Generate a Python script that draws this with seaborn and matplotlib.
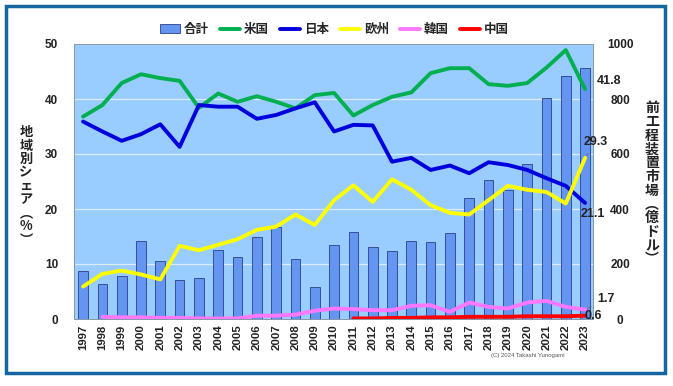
import matplotlib
matplotlib.use("Agg")
import matplotlib.pyplot as plt
import matplotlib.patches as mpatches
import pandas as pd
import seaborn as sns

years = list(range(1997, 2024))
total = [173, 126, 156, 285, 211, 143, 148, 251, 227, 299, 335, 219, 115, 268,
         315, 263, 247, 284, 280, 314, 441, 505, 469, 563, 803, 885, 912]
usa = [36.8, 38.9, 42.9, 44.5, 43.8, 43.3, 38.4, 41.0, 39.5, 40.5, 39.5, 38.3, 40.7, 41.1,
       37.0, 38.9, 40.4, 41.2, 44.7, 45.6, 45.6, 42.7, 42.4, 42.9, 45.7, 48.9, 41.8]
japan = [35.9, 34.1, 32.4, 33.6, 35.4, 31.3, 38.9, 38.6, 38.6, 36.4, 37.1, 38.3, 39.4, 34.1,
         35.3, 35.2, 28.6, 29.3, 27.1, 27.9, 26.5, 28.5, 28.0, 27.1, 25.6, 24.2, 21.1]
europe = [5.9, 8.2, 8.8, 8.1, 7.2, 13.3, 12.5, 13.5, 14.5, 16.2, 16.8, 19.0, 17.1, 21.6,
          24.3, 21.3, 25.4, 23.5, 20.7, 19.3, 19.0, 21.6, 24.2, 23.5, 23.1, 21.0, 29.3]
korea = [None, 0.4, 0.3, 0.3, 0.2, 0.2, 0.1, 0.1, 0.1, 0.6, 0.6, 0.8, 1.5, 1.9,
         1.8, 1.6, 1.6, 2.4, 2.5, 1.3, 3.0, 2.2, 1.9, 3.0, 3.3, 2.2, 1.7]
china = [None] * 14 + [0.1, 0.1, 0.2, 0.2, 0.3, 0.3, 0.4, 0.4, 0.4, 0.5, 0.5, 0.5, 0.6]

df = pd.DataFrame({"year": years, "total": total, "米国": usa, "日本": japan,
                   "欧州": europe, "韓国": korea, "中国": china})

sns.set_style("white")
plt.rcParams["font.family"] = ["Liberation Sans", "Noto Sans CJK JP"]
plt.rcParams["font.weight"] = "bold"

fig = plt.figure(figsize=(6.73, 3.86), dpi=100)
ax = fig.add_axes([74/673, 1-319/386, (593-74)/673, (319-44)/386])
ax.set_facecolor("#99CCFF")

# bars (right scale) drawn first, lines on twin axis on top
sns.barplot(data=df, x="year", y="total", native_scale=True, orient="x", width=0.5,
            color="#6495F0", saturation=1, edgecolor="#2B3F8C", linewidth=0.6,
            label="合計", ax=ax)
if ax.get_legend() is not None:
    ax.get_legend().remove()
ax.set_ylim(0, 1000)
ax.set_yticks([0, 200, 400, 600, 800, 1000])
ax.grid(axis="y", color="#DCEBFF", lw=0.9)
ax.set_axisbelow(True)

ax2 = ax.twinx()
colors = {"米国": "#00B050", "日本": "#0000DD", "欧州": "#FFFF00",
          "韓国": "#FF77FF", "中国": "#FF0000"}
for name, c in colors.items():
    sns.lineplot(data=df, x="year", y=name, color=c, lw=2.8, label=name, ax=ax2,
                 legend=False)
ax2.set_ylim(0, 50)
ax2.set_yticks([0, 10, 20, 30, 40, 50])
ax2.yaxis.tick_left()
ax.yaxis.tick_right()
ax2.set_xlim(1997 - 0.47, 2023 + 0.41)

ax.set_xlabel("")
ax.set_ylabel("")
ax2.set_xlabel("")
ax2.set_ylabel("")
ax.set_xticks(years)
ax.set_xticklabels([str(y) for y in years], rotation=90, fontsize=8.2,
                   fontweight="bold", color="#222222")
ax.tick_params(axis="x", length=3, width=0.6, color="#777777", pad=1)
ax.tick_params(axis="y", length=0, pad=19.5, labelsize=8.5, labelcolor="#222222")
for t in ax.get_yticklabels():
    t.set_horizontalalignment("center")
ax2.tick_params(axis="y", length=0, pad=11.5, labelsize=8.5, labelcolor="#222222")
for a in (ax, ax2):
    for s in a.spines.values():
        s.set_color("#8899AA")
        s.set_linewidth(0.7)

# end labels
ann = dict(textcoords="offset points", fontsize=9, fontweight="bold", color="#222222",
           va="center", annotation_clip=False)
ax2.annotate("41.8", xy=(2023, usa[-1]), xytext=(8.6, 5.8), ha="left", **ann)
ax2.annotate("29.3", xy=(2023, europe[-1]), xytext=(8, 11.5), ha="center",
             arrowprops=dict(arrowstyle="-", color="#666666", lw=0.6), **ann)
ax2.annotate("21.1", xy=(2023, japan[-1]), xytext=(5.8, -8), ha="center", **ann)
ax2.annotate("1.7", xy=(2023, korea[-1]), xytext=(8.6, 7.6), ha="left",
             arrowprops=dict(arrowstyle="-", color="#666666", lw=0.6), **ann)
ax2.annotate("0.6", xy=(2023, china[-1]), xytext=(-0.5, 0), ha="left", **ann)

# legend
h1, l1 = ax.get_legend_handles_labels()
h2, l2 = ax2.get_legend_handles_labels()
fig.legend(h1 + h2, l1 + l2, loc="center", bbox_to_anchor=(0.497, 1-30/386), ncol=6,
           frameon=False, handlelength=1.6, handletextpad=0.3, columnspacing=0.9,
           prop={"size": 9, "weight": "bold"})

# vertical axis titles
fig.text(26/673, 1-186/386, "\n".join("地域別シェア︵%︶"), ha="center", va="center",
         fontsize=9.5, fontweight="bold", linespacing=0.95, color="#222222",
         family=["Noto Sans CJK JP", "Liberation Sans"])
fig.text(652/673, 1-184/386, "\n".join("前工程装置市場︵億ドル︶"), ha="center",
         va="center", fontsize=10, fontweight="bold", linespacing=0.98, color="#222222",
         family=["Noto Sans CJK JP", "Liberation Sans"])

fig.text(528/673, 1-356/386, "(C) 2024 Takashi Yunogami", ha="center", va="center",
         fontsize=4.3, fontweight="normal", color="#555555")

frame = mpatches.Rectangle((6/673, 1-373/386), 659/673, 367/386, transform=fig.transFigure,
                           fill=False, edgecolor="#1565A0", lw=2.5)
fig.add_artist(frame)

fig.savefig("out.png", dpi=100)
